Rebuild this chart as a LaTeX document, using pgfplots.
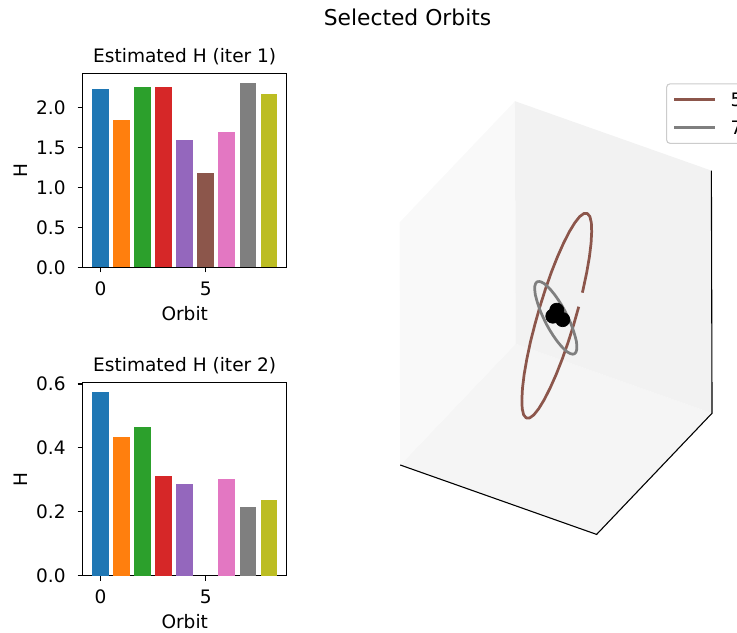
\documentclass[border=0pt]{standalone}
\usepackage{pgfplots}
\pgfplotsset{compat=1.18}
\usepackage{fontspec}
\setmainfont{DejaVu Sans}
\definecolor{tabblue}{HTML}{1F77B4}
\definecolor{taborange}{HTML}{FF7F0E}
\definecolor{tabgreen}{HTML}{2CA02C}
\definecolor{tabred}{HTML}{D62728}
\definecolor{tabpurple}{HTML}{9467BD}
\definecolor{tabbrown}{HTML}{8C564B}
\definecolor{tabpink}{HTML}{E377C2}
\definecolor{tabgray}{HTML}{7F7F7F}
\definecolor{tabolive}{HTML}{BCBD22}
\definecolor{paneX}{HTML}{F9F9F9}
\definecolor{paneY}{HTML}{F2F2F2}
\definecolor{paneZ}{HTML}{F5F5F5}
\pgfplotsset{
  barax/.style={
    scale only axis, anchor=south west,
    width=112.2pt,
    xmin=-0.84, xmax=8.84, ymin=0,
    xtick={0,5},
    tick align=outside, xtick pos=bottom, ytick pos=left,
    major tick length=2.75pt,
    axis line style={line width=0.6pt},
    tick style={line width=0.6pt, black},
    font=\fontsize{10.2}{12}\selectfont,
    /pgf/number format/assume math mode=true,
    ticklabel style={font=\fontsize{10.2}{12}\selectfont},
    yticklabel style={anchor=east, inner sep=0pt, xshift=-6.45pt},
    xticklabel style={anchor=north, inner sep=0pt, yshift=-4.95pt},
    title style={anchor=base, font=\fontsize{10.2}{12}\selectfont},
    xlabel={Orbit}, ylabel={H},
    xlabel style={at={(axis description cs:0.5,-0.273)}, anchor=base, inner sep=0pt},
    ylabel style={at={(axis description cs:-0.2716,0.5)}, anchor=base, inner sep=0pt, rotate=0},
  },
  onebar/.style={ybar, bar width=0.8, bar shift=0pt, draw=none, fill=#1},
}
\begin{document}
\begin{tikzpicture}
\useasboundingbox (0,0) rectangle (405.35pt,348.15pt);
\node[anchor=base, inner sep=0pt, font=\fontsize{12}{14}\selectfont] at (224.13pt,333.85pt) {Selected Orbits};

% ---- Bar chart: iteration 1 ----
\begin{axis}[barax, at={(45.49pt,201.14pt)}, height=106.7pt, ymax=2.435,
  ytick={0,0.5,1,1.5,2},
  yticklabel style={/pgf/number format/.cd, fixed, fixed zerofill, precision=1},
  title={Estimated H (iter 1)}]
\addplot[onebar=tabblue] coordinates {(0,2.238)};
\addplot[onebar=taborange] coordinates {(1,1.849)};
\addplot[onebar=tabgreen] coordinates {(2,2.263)};
\addplot[onebar=tabred] coordinates {(3,2.262)};
\addplot[onebar=tabpurple] coordinates {(4,1.602)};
\addplot[onebar=tabbrown] coordinates {(5,1.184)};
\addplot[onebar=tabpink] coordinates {(6,1.698)};
\addplot[onebar=tabgray] coordinates {(7,2.313)};
\addplot[onebar=tabolive] coordinates {(8,2.175)};
\end{axis}

% ---- Bar chart: iteration 2 ----
\begin{axis}[barax, at={(45.49pt,31.52pt)}, height=106.15pt, ymax=0.604,
  ytick={0,0.2,0.4,0.6},
  yticklabel style={/pgf/number format/.cd, fixed, fixed zerofill, precision=1},
  title={Estimated H (iter 2)}]
\addplot[onebar=tabblue] coordinates {(0,0.574)};
\addplot[onebar=taborange] coordinates {(1,0.434)};
\addplot[onebar=tabgreen] coordinates {(2,0.4655)};
\addplot[onebar=tabred] coordinates {(3,0.312)};
\addplot[onebar=tabpurple] coordinates {(4,0.287)};
\addplot[onebar=tabpink] coordinates {(6,0.303)};
\addplot[onebar=tabgray] coordinates {(7,0.216)};
\addplot[onebar=tabolive] coordinates {(8,0.237)};
\end{axis}

% ---- 3D orbits ----
\begin{axis}[
  at={(305.69pt,173.36pt)}, anchor=origin,
  x={(54.01pt,-19.09pt)}, y={(31.74pt,33.33pt)}, z={(-0.18pt,66.72pt)},
  xmin=-1, xmax=1, ymin=-1, ymax=1, zmin=-1, zmax=1,
  hide axis, clip=false,
  legend cell align=left,
  legend image code/.code={\draw[#1] (0pt,0pt) -- (22.2pt,0pt); \path (30.2pt,0pt);},
  legend style={at={(0.8527,1.0413)}, anchor=north west,
    draw=black!20, line width=0.6pt, rounded corners=2pt,
    fill=white, fill opacity=0.8, text opacity=1,
    font=\fontsize{10.2}{12}\selectfont,
    inner xsep=3.5pt, inner ysep=5pt, row sep=7.9pt,
    nodes={inner sep=0pt, text depth=0pt}},
]
\addplot3[fill=paneZ, draw=none, forget plot] coordinates {(-1,-1,-1) (1,-1,-1) (1,1,-1) (-1,1,-1)};
\addplot3[fill=paneX, draw=none, forget plot] coordinates {(-1,-1,-1) (-1,1,-1) (-1,1,1) (-1,-1,1)};
\addplot3[fill=paneY, draw=none, forget plot] coordinates {(-1,1,-1) (1,1,-1) (1,1,1) (-1,1,1)};
\addplot3[black, line width=0.6pt, forget plot] coordinates {(-1,-1,-1) (1,-1,-1) (1,1,-1) (1,1,1)};

\addplot3[tabbrown, line width=1.5pt, line join=round] coordinates {
(0.158,0.129,0.072) (0.158,0.041,-0.032) (0.154,-0.049,-0.133) (0.145,-0.137,-0.231)
(0.132,-0.221,-0.320) (0.115,-0.298,-0.399) (0.095,-0.366,-0.466) (0.073,-0.423,-0.517)
(0.049,-0.467,-0.553) (0.023,-0.497,-0.571) (-0.003,-0.511,-0.571) (-0.029,-0.511,-0.553)
(-0.053,-0.495,-0.517) (-0.075,-0.463,-0.466) (-0.095,-0.418,-0.399) (-0.112,-0.360,-0.320)
(-0.125,-0.291,-0.231) (-0.134,-0.213,-0.133) (-0.138,-0.129,-0.032) (-0.138,-0.041,0.072)
(-0.134,0.049,0.173) (-0.125,0.137,0.271) (-0.112,0.221,0.360) (-0.095,0.298,0.439)
(-0.075,0.366,0.506) (-0.053,0.423,0.557) (-0.029,0.467,0.593) (-0.003,0.497,0.611)
(0.023,0.511,0.611) (0.049,0.511,0.593) (0.073,0.495,0.557) (0.095,0.463,0.506)
(0.115,0.418,0.439) (0.132,0.360,0.360) (0.145,0.291,0.271) (0.154,0.213,0.173)
(0.155,0.197,0.153)};
\addlegendentry{5}

\addplot3[tabgray, line width=1.5pt, line join=round] coordinates {
(-0.172,0,0.251) (-0.153,0.009,0.247) (-0.129,0.019,0.236) (-0.101,0.027,0.217)
(-0.071,0.035,0.192) (-0.038,0.042,0.161) (-0.004,0.047,0.126) (0.031,0.051,0.086)
(0.064,0.054,0.044) (0.095,0.0545,0) (0.124,0.054,-0.044) (0.148,0.051,-0.086)
(0.168,0.047,-0.126) (0.184,0.042,-0.161) (0.193,0.035,-0.192) (0.197,0.027,-0.217)
(0.194,0.019,-0.236) (0.186,0.009,-0.247) (0.172,0,-0.251) (0.153,-0.009,-0.247)
(0.129,-0.019,-0.236) (0.101,-0.027,-0.217) (0.071,-0.035,-0.192) (0.038,-0.042,-0.161)
(0.004,-0.047,-0.126) (-0.031,-0.051,-0.086) (-0.064,-0.054,-0.044) (-0.095,-0.0545,0)
(-0.124,-0.054,0.044) (-0.148,-0.051,0.086) (-0.168,-0.047,0.126) (-0.184,-0.042,0.161)
(-0.193,-0.035,0.192) (-0.197,-0.027,0.217) (-0.194,-0.019,0.236) (-0.186,-0.009,0.247)
(-0.172,0,0.251)};
\addlegendentry{7}

\addplot3[only marks, mark=*, mark size=3.9pt, black, forget plot] coordinates {
(0.01,0,0.065) (-0.03,0,0.005) (0.07,0,0.005)};
\end{axis}
\end{tikzpicture}
\end{document}
